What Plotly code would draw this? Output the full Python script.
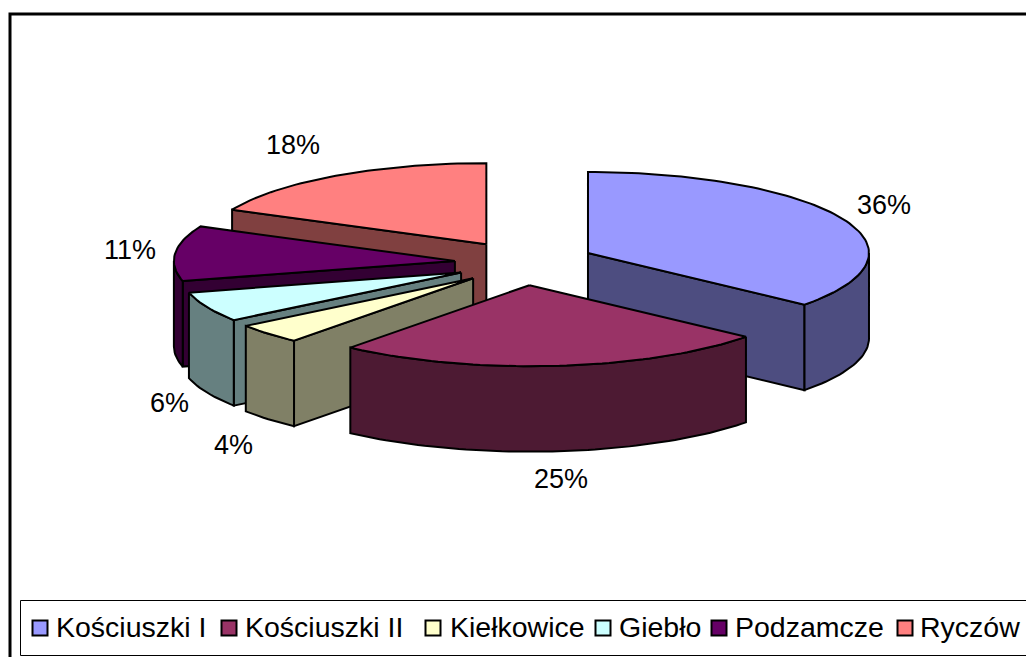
import math
import plotly.graph_objects as go

categories = ["Kościuszki I", "Kościuszki II", "Kiełkowice", "Giebło", "Podzamcze", "Ryczów"]
values = [36, 25, 4, 6, 11, 18]
top_colors = ["#9999FF", "#993366", "#FFFFCC", "#CCFFFF", "#660066", "#FF8080"]
side_colors = ["#4D4D80", "#4D1A33", "#808066", "#668080", "#330033", "#804040"]
label_xy = [(884, 205), (561, 479), (233, 445), (169, 403), (130, 250), (293, 145)]
legend_marker_x = [40, 229, 433, 603, 719, 905]
legend_text_x = [54, 243, 448, 617, 733, 918]

# projection of the tilted pie onto the pixel-sized plotting area
CX, CY = 523.0, 263.0
RX, RY, DEPTH = 281.0, 81.0, 85.5
EXPLODE_X, EXPLODE_Y = 68.4, 22.3
explode = [1.05, 1.0, 1.0, 1.0, 1.0, 1.0]
draw_order = [5, 0, 4, 3, 2, 1]


def arc(a0, a1, ox, oy):
    n = max(2, int(abs(a1 - a0) / 1.5) + 2)
    angs = [a0 + (a1 - a0) * i / (n - 1) for i in range(n)]
    return ([ox + RX * math.sin(math.radians(a)) for a in angs],
            [oy - RY * math.cos(math.radians(a)) for a in angs])


fig = go.Figure()


def poly(xs, ys, color, name):
    fig.add_trace(go.Scatter(
        x=xs + xs[:1], y=ys + ys[:1], mode="lines", fill="toself", fillcolor=color,
        line=dict(color="black", width=2), hoverinfo="text", text=name, showlegend=False))


total = sum(values)
starts, cum = [], 0
for v in values:
    starts.append(cum / total * 360)
    cum += v

for i in draw_order:
    a0 = starts[i]
    a1 = a0 + values[i] / total * 360
    mid = math.radians((a0 + a1) / 2)
    ox = CX + explode[i] * EXPLODE_X * math.sin(mid)
    oy = CY - explode[i] * EXPLODE_Y * math.cos(mid)
    # flat side walls that face the viewer
    for a, visible in ((a0, math.sin(math.radians(a0)) < -1e-6), (a1, math.sin(math.radians(a1)) > 1e-6)):
        if visible:
            ex = ox + RX * math.sin(math.radians(a))
            ey = oy - RY * math.cos(math.radians(a))
            poly([ox, ex, ex, ox], [oy, ey, ey + DEPTH, oy + DEPTH], side_colors[i], categories[i])
    # curved outer wall (front half of the ellipse only)
    lo, hi = max(a0, 90), min(a1, 270)
    if hi > lo:
        xs, ys = arc(lo, hi, ox, oy)
        poly(xs + xs[::-1], ys + [y + DEPTH for y in ys[::-1]], side_colors[i], categories[i])
    # top face
    xs, ys = arc(a0, a1, ox, oy)
    poly([ox] + xs, [oy] + ys, top_colors[i], categories[i])

annotations = []
FONT = "Liberation Sans, Arial, sans-serif"
for v, (x, y) in zip(values, label_xy):
    annotations.append(dict(x=x, y=y, text=f"{v}%", showarrow=False, xref="x", yref="y",
                            font=dict(family=FONT, size=27, color="black")))
for name, x in zip(categories, legend_text_x):
    annotations.append(dict(x=x, y=627, text=name, showarrow=False, xref="x", yref="y",
                            xanchor="left", font=dict(family=FONT, size=28.5, color="black")))

fig.add_trace(go.Scatter(
    x=legend_marker_x, y=[628] * len(categories), mode="markers", hoverinfo="skip", showlegend=False,
    marker=dict(symbol="square", size=15, color=top_colors, line=dict(color="black", width=2))))

shapes = [
    dict(type="rect", xref="x", yref="y", x0=10, y0=14, x1=1040, y1=670,
         line=dict(color="black", width=3), fillcolor="rgba(0,0,0,0)", layer="below"),
    dict(type="rect", xref="x", yref="y", x0=20.5, y0=600.5, x1=1040, y1=655.5,
         line=dict(color="black", width=1), fillcolor="rgba(0,0,0,0)", layer="below"),
]

fig.update_layout(
    width=1026, height=657, autosize=False,
    margin=dict(l=0, r=0, t=0, b=0),
    paper_bgcolor="white", plot_bgcolor="white",
    xaxis=dict(range=[0, 1026], visible=False, fixedrange=True),
    yaxis=dict(range=[657, 0], visible=False, fixedrange=True),
    annotations=annotations, shapes=shapes, showlegend=False,
)
fig.write_html("out.html", config=dict(displayModeBar=False),
               post_script="document.body.style.margin='0';document.body.style.overflow='hidden';")
